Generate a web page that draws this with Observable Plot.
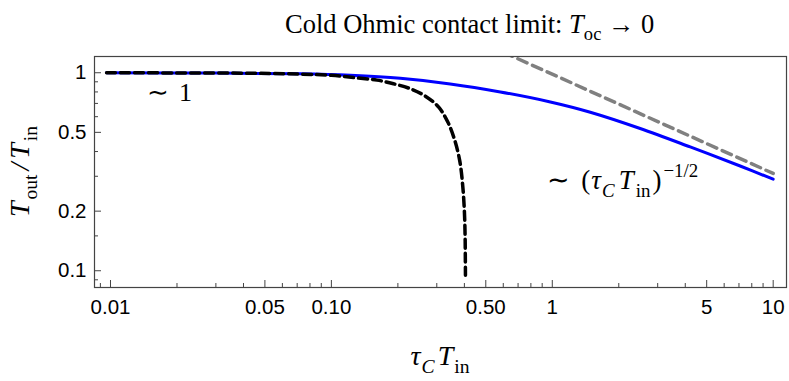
<!DOCTYPE html>
<html><head><meta charset="utf-8">
<script src="https://cdn.jsdelivr.net/npm/d3@7"></script>
<script src="https://cdn.jsdelivr.net/npm/@observablehq/plot@0.6"></script>
<style>body{margin:0;background:#fff} svg{display:block}</style>
</head><body><div id="chart"></div>
<script>
// Blue curve: full T_out/T_in
const xBlue = [0.0096, 0.03, 0.0724, 0.122, 0.205, 0.345, 0.582, 0.98, 1.486, 2.5, 4.21, 7.09, 10];
const yBlue = [1.0, 0.996, 0.987, 0.970, 0.937, 0.878, 0.800, 0.712, 0.632, 0.523, 0.422, 0.338, 0.290];
// Black dashed: small-x approximation
const xBlack = [0.0096, 0.02, 0.04, 0.072, 0.1, 0.131, 0.161, 0.191, 0.228, 0.266, 0.306, 0.337, 0.36, 0.381, 0.393, 0.4, 0.403, 0.404, 0.4045];
const yBlack = [1.0, 0.998, 0.995, 0.985, 0.97, 0.942, 0.918, 0.88, 0.83, 0.762, 0.67, 0.562, 0.464, 0.36, 0.27, 0.2, 0.15, 0.115, 0.095];
// Gray dashed: large-x asymptote
const xGray = [0.6, 10];
const yGray = [1.27, 0.31];
// Ticks
const xMajor = [0.01, 0.05, 0.1, 0.5, 1, 5, 10];
const xMajorLabels = ["0.01", "0.05", "0.10", "0.50", "1", "5", "10"];
const xMinor = [0.009, 0.02, 0.03, 0.04, 0.06, 0.07, 0.08, 0.09, 0.2, 0.3, 0.4, 0.6, 0.7, 0.8, 0.9, 2, 3, 4, 6, 7, 8, 9];
const yMajor = [0.1, 0.2, 0.5, 1];
const yMajorLabels = ["0.1", "0.2", "0.5", "1"];
const yMinor = [0.09, 0.15, 0.3, 0.4, 0.6, 0.7, 0.8, 0.9];
// Annotation anchors (data coords)
const annX = [0.0147, 0.955];
const annY = [0.716, 0.256];

const rows = (xs, ys) => xs.map((x, i) => ({x, y: ys[i]}));
const W = 789, H = 381, mT = 56, mB = 94, mL = 94, mR = 3;
const fw = W - mL - mR, fh = H - mT - mB;
const frameColor = "#444";
const sans = "'Liberation Sans', Arial, sans-serif";

const plot = Plot.plot({
  width: W, height: H, marginTop: mT, marginBottom: mB, marginLeft: mL, marginRight: mR,
  style: {background: "#fff", fontFamily: sans, color: "#000"},
  x: {type: "log", domain: [0.008464, 11.49], axis: null},
  y: {type: "log", domain: [0.0823, 1.208], axis: null},
  marks: [
    Plot.line(rows(xGray, yGray), {x: "x", y: "y", stroke: "#808080", strokeWidth: 3.5, strokeDasharray: "10,6", clip: true}),
    Plot.line(rows(xBlue, yBlue), {x: "x", y: "y", stroke: "#0000ff", strokeWidth: 3, curve: "catmull-rom"}),
    Plot.line(rows(xBlack, yBlack), {x: "x", y: "y", stroke: "#000", strokeWidth: 3.5, strokeDasharray: "9,5", curve: "catmull-rom"}),
    Plot.tickX(xMajor, {x: d => d, stroke: frameColor, insetTop: fh - 7}),
    Plot.tickX(xMinor, {x: d => d, stroke: frameColor, insetTop: fh - 4}),
    Plot.tickY(yMajor, {y: d => d, stroke: frameColor, insetRight: fw - 7}),
    Plot.tickY(yMinor, {y: d => d, stroke: frameColor, insetRight: fw - 4}),
    Plot.text(xMajor, {x: d => d, frameAnchor: "bottom", lineAnchor: "top", dy: 12, text: (d, i) => xMajorLabels[i], fontSize: 20.5, fill: "#000"}),
    Plot.text(yMajor, {y: d => d, frameAnchor: "left", textAnchor: "end", dx: -8, text: (d, i) => yMajorLabels[i], fontSize: 20.5, fill: "#000"}),
    Plot.frame({stroke: frameColor, strokeWidth: 1.2})
  ]
});

const svg = d3.select(plot);
const serif = "'Liberation Serif', 'Times New Roman', serif";
function rich(parent, parts, size, anchor) {
  const t = parent.append("text").attr("font-family", serif).attr("font-size", size)
    .attr("fill", "#000").attr("text-anchor", anchor || "start");
  let shift = 0;
  for (const p of parts) {
    const ts = t.append("tspan").text(p.t);
    const target = p.sub ? 0.28 * size : p.sup ? -0.45 * size : 0;
    ts.attr("dy", target - shift); shift = target;
    if (p.sub || p.sup) ts.attr("font-size", size * 0.7);
    if (p.it) ts.attr("font-style", "italic");
    if (p.dx) ts.attr("dx", p.dx);
  }
  return t;
}
// Title
rich(svg, [{t: "Cold Ohmic contact limit: "}, {t: "T", it: true}, {t: "oc", sub: true}, {t: " → 0"}], 26.5)
  .attr("x", 285).attr("y", 33);
// x label
rich(svg, [{t: "τ", it: true}, {t: "C", it: true, sub: true, dx: 1}, {t: "T", it: true, dx: 3}, {t: "in", sub: true, dx: 1}], 28, "middle")
  .attr("x", 440).attr("y", 365);
// y label
const gy = svg.append("g").attr("transform", `translate(29,${mT + fh / 2}) rotate(-90)`);
rich(gy, [{t: "T", it: true}, {t: "out", sub: true, dx: 2}, {t: "/", it: true, dx: 4}, {t: "T", it: true, dx: 4}, {t: "in", sub: true, dx: 2}], 28, "middle");
// annotations
const sx = plot.scale("x"), sy = plot.scale("y");
rich(svg, [{t: "∼"}, {t: "1", dx: 10}], 26)
  .attr("x", sx.apply(annX[0])).attr("y", sy.apply(annY[0]));
rich(svg, [{t: "∼"}, {t: "(", dx: 11}, {t: "τ", it: true, dx: 1}, {t: "C", it: true, sub: true, dx: 1}, {t: "T", it: true, dx: 4}, {t: "in", sub: true, dx: 2}, {t: ")", dx: 2}, {t: "−1/2", sup: true, dx: 2}], 27)
  .attr("x", sx.apply(annX[1])).attr("y", sy.apply(annY[1]));

document.getElementById("chart").append(plot);
</script>
</body></html>
